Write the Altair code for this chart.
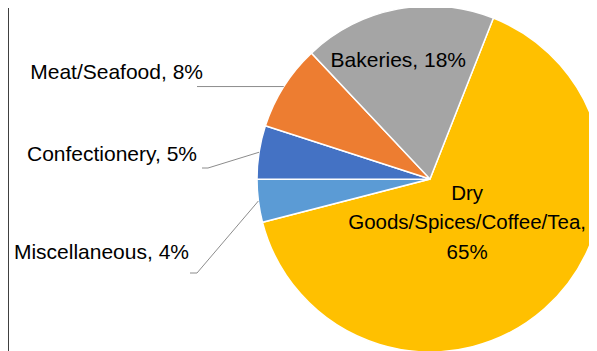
import math
import altair as alt
import pandas as pd

# ---- data ----
categories = ["Dry Goods/Spices/Coffee/Tea", "Miscellaneous", "Confectionery", "Meat/Seafood", "Bakeries"]
values = [65, 4, 5, 8, 18]
labels = ["Dry\nGoods/Spices/Coffee/Tea,\n65%", "Miscellaneous, 4%", "Confectionery, 5%",
          "Meat/Seafood, 8%", "Bakeries, 18%"]
colors = ["#FFC000", "#5B9BD5", "#4472C4", "#ED7D31", "#A5A5A5"]

# ---- layout ----
W, H = 581, 343
CX, CY, R = 422, 171, 173
START = math.radians(21.5)
FONT = "Liberation Sans"
FS = 21

total = sum(values)
ends, run = [], 0
for v in values:
    run += v
    ends.append(run)
starts = [e - v for e, v in zip(ends, values)]
mids = [(s + e) / 2 for s, e in zip(starts, ends)]

df = pd.DataFrame({"category": categories, "value": values, "label": labels,
                   "start": starts, "end": ends, "mid": mids})

theta_scale = alt.Scale(domain=[0, total], range=[START, START + 2 * math.pi])
color_scale = alt.Scale(domain=categories, range=colors)

pie = alt.Chart(df).mark_arc(radius=R, stroke="white", strokeWidth=1.5).encode(
    theta=alt.Theta("start:Q", scale=theta_scale),
    theta2="end:Q",
    color=alt.Color("category:N", scale=color_scale, legend=None),
    x=alt.value(CX), y=alt.value(CY),
)

def inside(cat, radius, dx=0, dy=0, fs=FS):
    return alt.Chart(df[df["category"] == cat]).mark_text(
        radius=radius, dx=dx, dy=dy, lineBreak="\n", lineHeight=29.5,
        align="center", baseline="middle", font=FONT, fontSize=fs, color="black",
    ).encode(
        theta=alt.Theta("mid:Q", scale=theta_scale),
        text="label:N",
        x=alt.value(CX), y=alt.value(CY),
    )

dry_lbl = inside("Dry Goods/Spices/Coffee/Tea", 59, dx=-2, dy=-29.5, fs=20.5)
bak_lbl = inside("Bakeries", 120, dx=-9)

# leader lines: start on the pie edge at the slice's mid-angle
outside_layout = {
    "Meat/Seafood": {"pts": [(189, None)], "text": (195, 71)},
    "Confectionery": {"pts": [(200, 160), (194, 160)], "text": (189, 153)},
    "Miscellaneous": {"pts": [(189, 265), (182, 265)], "text": (181, 251)},
}
line_rows, text_rows = [], []
for cat, lab, mid in zip(categories, labels, mids):
    if cat not in outside_layout:
        continue
    ang = START + 2 * math.pi * mid / total
    ex, ey = CX + R * math.sin(ang), CY - R * math.cos(ang)
    pts = [(ex, ey)] + [(px, ey if py is None else py) for px, py in outside_layout[cat]["pts"]]
    for i, (px, py) in enumerate(pts):
        line_rows.append({"category": cat, "i": i, "px": px, "py": py})
    tx, ty = outside_layout[cat]["text"]
    text_rows.append({"category": cat, "label": lab, "tx": tx, "ty": ty})

lines = alt.Chart(pd.DataFrame(line_rows)).mark_line(color="#8C8C8C", strokeWidth=1).encode(
    x=alt.X("px:Q", scale=None, axis=None),
    y=alt.Y("py:Q", scale=None, axis=None),
    detail="category:N",
    order="i:Q",
)

out_text = alt.Chart(pd.DataFrame(text_rows)).mark_text(
    align="right", baseline="alphabetic", font=FONT, fontSize=FS, color="black"
).encode(
    x=alt.X("tx:Q", scale=None, axis=None),
    y=alt.Y("ty:Q", scale=None, axis=None),
    text="label:N",
)

border = alt.Chart(pd.DataFrame({"a": [0]})).mark_rule(color="#404040", strokeWidth=1).encode(
    x=alt.value(0.5), y=alt.value(0), y2=alt.value(H)
)

chart = alt.layer(pie, dry_lbl, bak_lbl, lines, out_text, border).properties(
    width=W, height=H, padding=0, autosize=alt.AutoSizeParams(type="none"),
    background="white",
).configure_view(stroke=None)

chart.save("out.html", embed_options={"renderer": "svg", "actions": False})
